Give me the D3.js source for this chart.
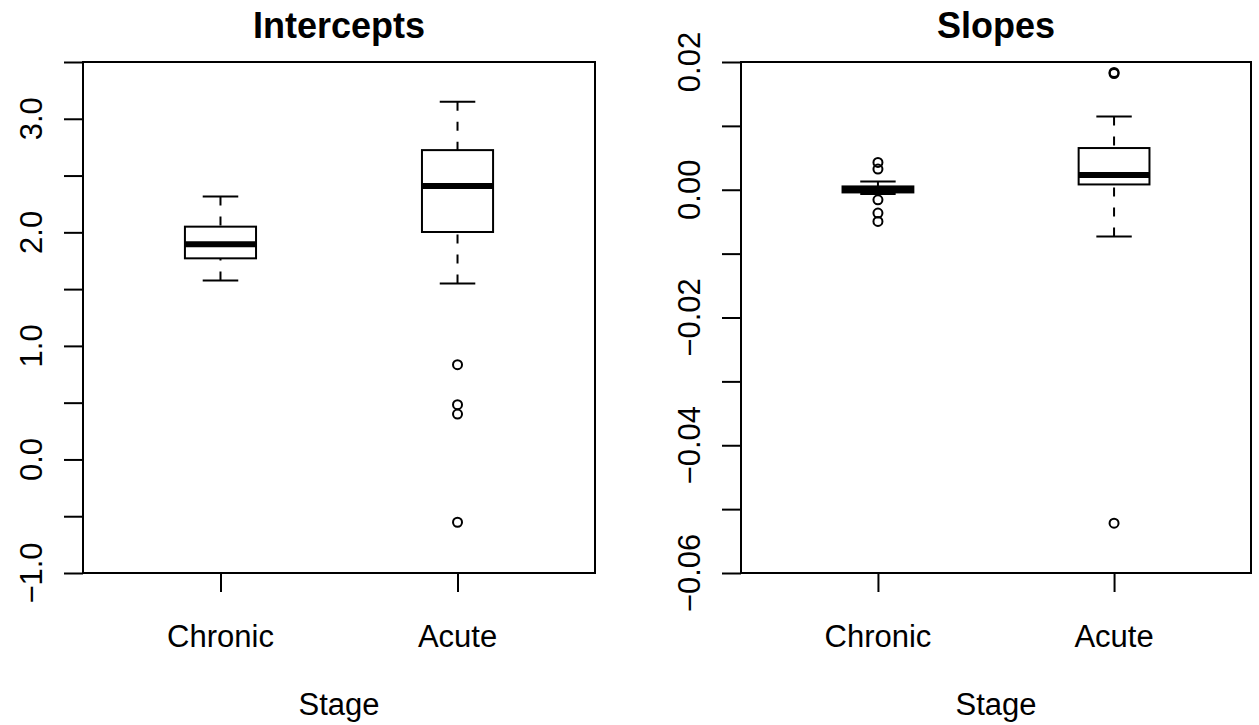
<!DOCTYPE html>
<html>
<head>
<meta charset="utf-8">
<script src="https://cdn.jsdelivr.net/npm/d3@7"></script>
<style>
  body { margin: 0; background: #fff; }
  text { font-family: "Liberation Sans", Arial, Helvetica, sans-serif; fill: #000; }
</style>
</head>
<body>
<div id="chart"></div>
<script>
// groups on the x axis
var stages = ["Chronic", "Acute"];

// box stats: [lower whisker, Q1, median, Q3, upper whisker]
var interceptStats = [
  [1.576, 1.771, 1.894, 2.05, 2.315],
  [1.55, 2.003, 2.409, 2.724, 3.15]
];
var interceptOutliers = [
  [],
  [0.835, 0.482, 0.400, -0.553]
];

var slopeStats = [
  [-0.00067, -0.00042, 0.00005, 0.00052, 0.0013],
  [-0.00731, 0.00083, 0.0023, 0.00653, 0.01148]
];
var slopeOutliers = [
  [0.00427, 0.00324, -0.00157, -0.00365, -0.00496],
  [0.01837, 0.0182, -0.0522]
];

// y axis ticks and which of them get a label
var interceptTicks = [-1, -0.5, 0, 0.5, 1, 1.5, 2, 2.5, 3, 3.5];
var interceptLabels = [-1, 0, 1, 2, 3];
var slopeTicks = [-0.06, -0.05, -0.04, -0.03, -0.02, -0.01, 0, 0.01, 0.02];
var slopeLabels = [-0.06, -0.04, -0.02, 0, 0.02];

var width = 1259, height = 725;
var plotTop = 62, plotBottom = 573;

var svg = d3.select("#chart").append("svg")
    .attr("width", width)
    .attr("height", height);

var panels = [
  {title: "Intercepts", left: 83, right: 595, domain: [-1, 3.5],
   stats: interceptStats, outliers: interceptOutliers,
   ticks: interceptTicks, labels: interceptLabels, fmt: d3.format(".1f")},
  {title: "Slopes", left: 741, right: 1251, domain: [-0.06, 0.02],
   stats: slopeStats, outliers: slopeOutliers,
   ticks: slopeTicks, labels: slopeLabels, fmt: d3.format(".2f")}
];

panels.forEach(drawPanel);

function drawPanel(p) {
  var g = svg.append("g");

  // R style: xlim = [0.5, n + 0.5] widened by 4%
  var xScale = d3.scaleLinear()
      .domain([0.42, stages.length + 0.58])
      .range([p.left, p.right]);

  var yScale = d3.scaleLinear()
      .domain(p.domain)
      .range([plotBottom, plotTop]);

  var boxHalf = xScale(0.15) - xScale(0);
  var capHalf = boxHalf / 2;

  // plot frame
  g.append("rect")
      .attr("x", p.left)
      .attr("y", plotTop)
      .attr("width", p.right - p.left)
      .attr("height", plotBottom - plotTop)
      .attr("fill", "none")
      .attr("stroke", "#000")
      .attr("stroke-width", 2);

  // y axis: ticks only, labels drawn separately (rotated)
  var yAxis = d3.axisLeft(yScale)
      .tickValues(p.ticks)
      .tickSize(19)
      .tickSizeOuter(0)
      .tickFormat("");
  var yg = g.append("g")
      .attr("transform", "translate(" + p.left + ",0)")
      .call(yAxis);
  yg.select(".domain").remove();
  yg.selectAll("line").attr("stroke", "#000").attr("stroke-width", 2);

  g.selectAll(".ylab")
      .data(p.labels)
      .enter()
      .append("text")
      .attr("class", "ylab")
      .attr("transform", function(d) {
        return "translate(" + (p.left - 41) + "," + yScale(d) + ") rotate(-90)";
      })
      .attr("text-anchor", "middle")
      .style("font-size", "31px")
      .text(function(d) { return p.fmt(d); });

  // x axis
  var xAxis = d3.axisBottom(xScale)
      .tickValues(d3.range(1, stages.length + 1))
      .tickSize(19)
      .tickSizeOuter(0)
      .tickFormat("");
  var xg = g.append("g")
      .attr("transform", "translate(0," + plotBottom + ")")
      .call(xAxis);
  xg.select(".domain").remove();
  xg.selectAll("line").attr("stroke", "#000").attr("stroke-width", 2);

  g.selectAll(".xlab")
      .data(stages)
      .enter()
      .append("text")
      .attr("class", "xlab")
      .attr("x", function(d, i) { return xScale(i + 1); })
      .attr("y", 647)
      .attr("text-anchor", "middle")
      .style("font-size", "31px")
      .text(function(d) { return d; });

  // titles
  g.append("text")
      .attr("x", (p.left + p.right) / 2)
      .attr("y", 38)
      .attr("text-anchor", "middle")
      .style("font-size", "36px")
      .style("font-weight", "bold")
      .text(p.title);

  g.append("text")
      .attr("x", (p.left + p.right) / 2)
      .attr("y", 715)
      .attr("text-anchor", "middle")
      .style("font-size", "31px")
      .text("Stage");

  // boxes
  var boxes = g.selectAll(".box")
      .data(p.stats)
      .enter()
      .append("g")
      .attr("class", "box");

  // whiskers, dashed, drawn from the whisker end towards the box
  boxes.append("line")
      .attr("x1", function(d, i) { return xScale(i + 1); })
      .attr("x2", function(d, i) { return xScale(i + 1); })
      .attr("y1", function(d) { return yScale(d[4]); })
      .attr("y2", function(d) { return yScale(d[3]); })
      .attr("stroke", "#000")
      .attr("stroke-width", 2)
      .attr("stroke-dasharray", "9,11");

  boxes.append("line")
      .attr("x1", function(d, i) { return xScale(i + 1); })
      .attr("x2", function(d, i) { return xScale(i + 1); })
      .attr("y1", function(d) { return yScale(d[0]); })
      .attr("y2", function(d) { return yScale(d[1]); })
      .attr("stroke", "#000")
      .attr("stroke-width", 2)
      .attr("stroke-dasharray", "9,11");

  // staples
  [0, 4].forEach(function(k) {
    boxes.append("line")
        .attr("x1", function(d, i) { return xScale(i + 1) - capHalf; })
        .attr("x2", function(d, i) { return xScale(i + 1) + capHalf; })
        .attr("y1", function(d) { return yScale(d[k]); })
        .attr("y2", function(d) { return yScale(d[k]); })
        .attr("stroke", "#000")
        .attr("stroke-width", 2);
  });

  boxes.append("rect")
      .attr("x", function(d, i) { return xScale(i + 1) - boxHalf; })
      .attr("y", function(d) { return yScale(d[3]); })
      .attr("width", boxHalf * 2)
      .attr("height", function(d) { return yScale(d[1]) - yScale(d[3]); })
      .attr("fill", "#fff")
      .attr("stroke", "#000")
      .attr("stroke-width", 2);

  boxes.append("line")
      .attr("x1", function(d, i) { return xScale(i + 1) - boxHalf; })
      .attr("x2", function(d, i) { return xScale(i + 1) + boxHalf; })
      .attr("y1", function(d) { return yScale(d[2]); })
      .attr("y2", function(d) { return yScale(d[2]); })
      .attr("stroke", "#000")
      .attr("stroke-width", 6);

  // outliers
  p.outliers.forEach(function(list, i) {
    g.selectAll(".out" + i)
        .data(list)
        .enter()
        .append("circle")
        .attr("cx", xScale(i + 1))
        .attr("cy", function(d) { return yScale(d); })
        .attr("r", 4.5)
        .attr("fill", "none")
        .attr("stroke", "#000")
        .attr("stroke-width", 2);
  });
}
</script>
</body>
</html>
